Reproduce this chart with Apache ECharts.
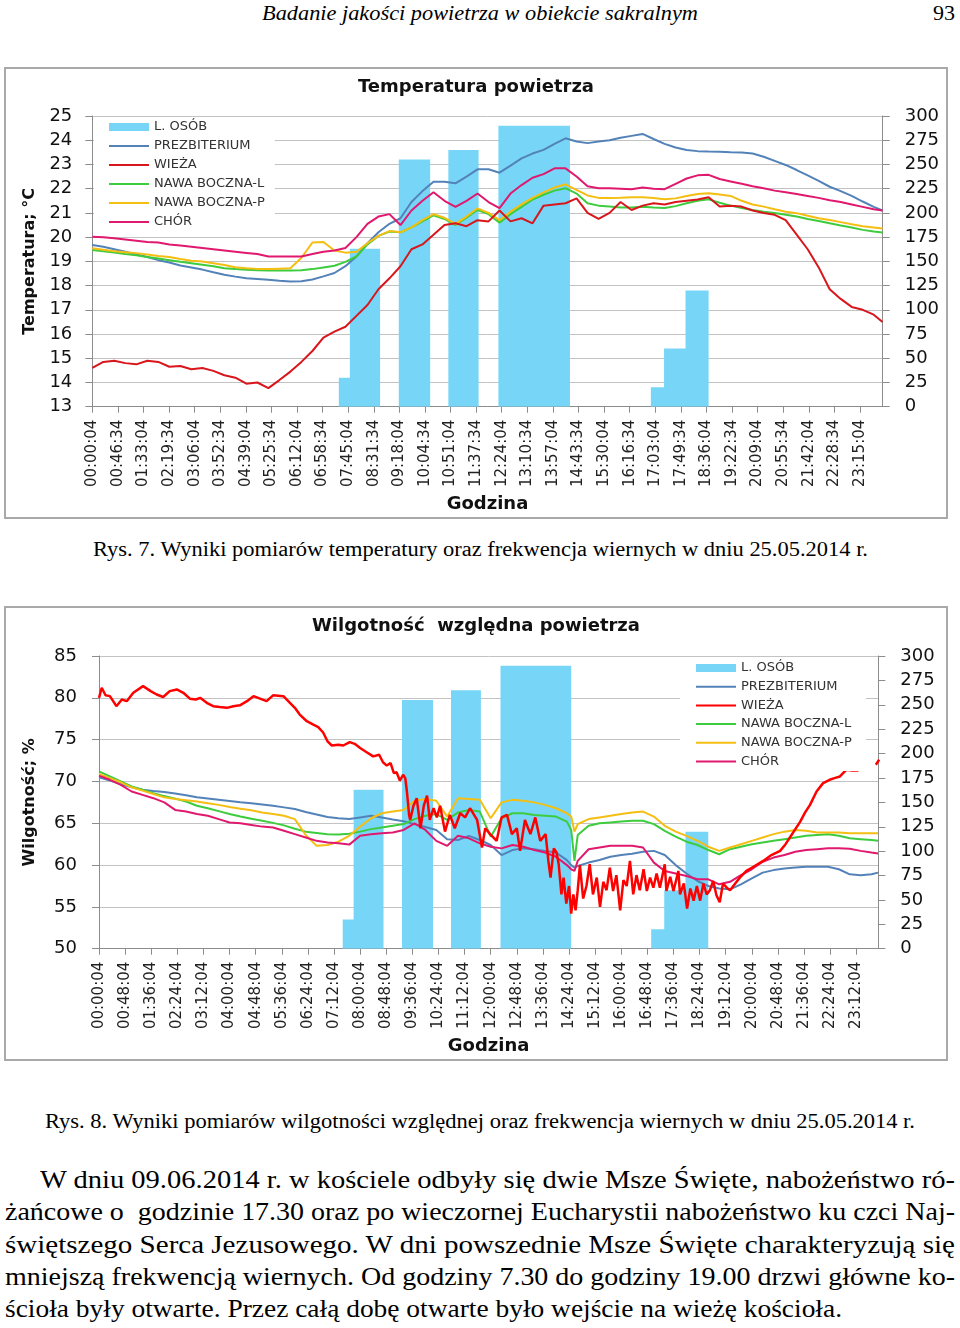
<!DOCTYPE html>
<html><head><meta charset="utf-8">
<script src="https://cdn.jsdelivr.net/npm/echarts/dist/echarts.min.js"></script>
<style>
html,body{margin:0;padding:0;background:#fff;}
body{width:960px;height:1328px;position:relative;overflow:hidden;}
.txt{position:absolute;font-family:"Liberation Serif","Times New Roman",serif;color:#000;white-space:pre;line-height:1;}
.txt span{display:inline-block;transform-origin:0 50%;white-space:pre;}
.frame{position:absolute;border:2px solid #a9a9a9;box-sizing:border-box;pointer-events:none;}
.chart{position:absolute;}
</style></head>
<body>
<div class="txt fit" data-w="436" style="left:262px;top:2px;font-size:22px;font-style:italic;"><span>Badanie jakości powietrza w obiekcie sakralnym</span></div>
<div class="txt fit" data-w="22" style="left:933px;top:2px;font-size:22px;"><span>93</span></div>

<div id="c1" class="chart" style="left:4px;top:67px;width:944px;height:451px;"></div>
<div class="frame" style="left:4px;top:67px;width:944px;height:452px;"></div>

<div class="txt fit" data-w="775" style="left:93px;top:539px;font-size:20px;"><span>Rys. 7. Wyniki pomiarów temperatury oraz frekwencja wiernych w dniu 25.05.2014 r.</span></div>

<div id="c2" class="chart" style="left:4px;top:606px;width:944px;height:454px;"></div>
<div class="frame" style="left:4px;top:606px;width:944px;height:455px;"></div>

<div class="txt fit" data-w="870" style="left:45px;top:1111px;font-size:20px;"><span>Rys. 8. Wyniki pomiarów wilgotności względnej oraz frekwencja wiernych w dniu 25.05.2014 r.</span></div>

<div class="txt fit" data-w="915" style="left:40px;top:1167px;font-size:25px;"><span>W dniu 09.06.2014 r. w kościele odbyły się dwie Msze Święte, nabożeństwo ró-</span></div>
<div class="txt fit" data-w="950" style="left:5px;top:1199px;font-size:25px;"><span>żańcowe o  godzinie 17.30 oraz po wieczornej Eucharystii nabożeństwo ku czci Naj-</span></div>
<div class="txt fit" data-w="950" style="left:5px;top:1232px;font-size:25px;"><span>świętszego Serca Jezusowego. W dni powszednie Msze Święte charakteryzują się</span></div>
<div class="txt fit" data-w="950" style="left:5px;top:1264px;font-size:25px;"><span>mniejszą frekwencją wiernych. Od godziny 7.30 do godziny 19.00 drzwi główne ko-</span></div>
<div class="txt fit" data-w="837" style="left:5px;top:1296px;font-size:25px;"><span>ścioła były otwarte. Przez całą dobę otwarte było wejście na wieżę kościoła.</span></div>

<script>
// ---------- DATA ----------
// Series names
const seriesNames = ['L. OSÓB', 'PREZBITERIUM', 'WIEŻA', 'NAWA BOCZNA-L', 'NAWA BOCZNA-P', 'CHÓR'];

// Number of people (L. OSÓB): change points, minutes after 00:00:04, and value held from that moment
const osobMin = [0, 448, 468, 523, 557, 614, 647, 702, 738, 868, 1015, 1039, 1078, 1120, 1436];
const osobVal = [0, 30, 163, 0, 255, 0, 265, 0, 290, 0, 20, 60, 120, 0, 0];

// Temperature readings (°C), minutes after 00:00:04
const tMin = [0,20,40,60,80,100,120,140,160,180,200,220,240,260,280,300,320,340,360,380,400,420,440,460,480,500,520,540,560,580,600,620,640,660,680,700,720,740,760,780,800,820,840,860,880,900,920,940,960,980,1000,1020,1040,1060,1080,1100,1120,1140,1160,1180,1200,1220,1240,1260,1280,1300,1320,1340,1360,1380,1400,1420,1436];
const tPrezb = [19.68,19.6,19.5,19.4,19.28,19.18,19.05,18.95,18.83,18.75,18.66,18.55,18.45,18.37,18.3,18.27,18.24,18.2,18.17,18.18,18.25,18.38,18.52,18.8,19.2,19.75,20.2,20.55,20.78,21.45,21.9,22.29,22.29,22.22,22.5,22.8,22.8,22.66,22.95,23.25,23.45,23.6,23.85,24.08,23.95,23.88,23.95,24.0,24.1,24.18,24.26,24.05,23.85,23.7,23.6,23.55,23.53,23.52,23.5,23.49,23.45,23.32,23.15,22.98,22.77,22.55,22.32,22.08,21.9,21.7,21.47,21.25,21.1];
const tWieza = [14.6,14.85,14.9,14.8,14.75,14.9,14.85,14.65,14.68,14.55,14.6,14.48,14.3,14.2,13.95,14.0,13.77,14.1,14.45,14.85,15.3,15.85,16.1,16.3,16.75,17.2,17.85,18.3,18.8,19.5,19.7,20.1,20.5,20.57,20.45,20.7,20.65,21.1,20.65,20.78,20.57,21.3,21.35,21.4,21.6,21.0,20.75,21.0,21.45,21.12,21.3,21.4,21.35,21.45,21.5,21.55,21.65,21.26,21.3,21.26,21.1,21.0,20.92,20.7,20.1,19.5,18.75,17.85,17.45,17.12,17.0,16.8,16.5];
const tNawaL = [19.47,19.42,19.37,19.3,19.25,19.18,19.12,19.05,18.98,18.92,18.86,18.8,18.72,18.68,18.65,18.63,18.62,18.62,18.62,18.63,18.68,18.75,18.82,18.98,19.2,19.7,20.05,20.23,20.2,20.4,20.65,20.9,20.75,20.5,20.8,21.12,20.95,20.6,20.95,21.25,21.55,21.75,21.92,22.02,21.8,21.4,21.3,21.26,21.22,21.22,21.25,21.22,21.2,21.28,21.4,21.5,21.56,21.42,21.3,21.2,21.12,21.05,21.0,20.92,20.85,20.75,20.67,20.57,20.48,20.4,20.3,20.23,20.19];
const tNawaP = [19.54,19.48,19.42,19.38,19.34,19.28,19.22,19.18,19.1,19.03,18.99,18.92,18.85,18.76,18.72,18.69,18.68,18.7,18.72,19.15,19.78,19.8,19.45,19.36,19.4,19.75,20.05,20.25,20.2,20.4,20.7,20.95,20.8,20.55,20.85,21.19,21.0,20.7,21.05,21.35,21.62,21.85,22.05,22.18,21.95,21.72,21.62,21.62,21.63,21.65,21.65,21.62,21.56,21.6,21.7,21.78,21.81,21.76,21.7,21.5,21.35,21.26,21.15,21.05,20.99,20.88,20.78,20.71,20.62,20.53,20.45,20.4,20.36];
const tChor = [20.02,20.0,19.95,19.9,19.85,19.8,19.78,19.7,19.65,19.6,19.55,19.5,19.45,19.4,19.35,19.3,19.2,19.2,19.2,19.2,19.3,19.4,19.45,19.55,20.0,20.55,20.85,20.95,20.5,21.1,21.5,21.85,21.5,21.25,21.5,21.8,21.45,21.2,21.8,22.15,22.45,22.6,22.84,22.84,22.5,22.1,22.02,22.02,22.0,21.98,22.05,22.0,21.98,22.2,22.42,22.55,22.57,22.4,22.3,22.2,22.1,22.02,21.92,21.85,21.78,21.7,21.62,21.52,21.45,21.35,21.25,21.15,21.1];

// Relative humidity readings (%), minutes after 00:00:04
const hMin = [0,20,40,60,80,100,120,140,160,180,200,220,240,260,280,300,320,340,360,380,400,420,440,460,480,500,520,540,560,580,600,620,640,660,680,700,720,740,760,780,800,820,840,860,868,874,880,900,920,940,960,980,1000,1020,1040,1060,1080,1100,1120,1140,1160,1180,1200,1220,1240,1260,1280,1300,1320,1340,1360,1380,1400,1420,1432];
const hPrezb = [70.5,70.1,69.7,69.3,69.0,68.85,68.75,68.55,68.35,68.1,67.95,67.8,67.65,67.5,67.4,67.25,67.1,66.9,66.7,66.35,66.05,65.75,65.6,65.5,65.7,65.9,65.7,65.45,65.25,64.9,64.55,64.2,63.1,63.0,63.5,63.0,62.4,61.2,61.8,62.0,61.9,61.7,61.5,60.6,60.0,59.7,59.9,60.3,60.6,61.0,61.2,61.35,61.6,61.7,61.2,60.0,59.0,58.1,57.5,57.2,57.1,57.7,58.4,59.1,59.4,59.6,59.7,59.8,59.8,59.8,59.5,58.9,58.8,58.9,59.1];
const hNawaL = [71.2,70.6,70.0,69.4,69.0,68.6,68.25,67.95,67.6,67.1,66.8,66.45,66.1,65.8,65.55,65.3,65.05,64.75,64.35,64.0,63.85,63.7,63.65,63.75,64.0,64.3,64.5,64.7,64.9,65.5,65.9,66.1,65.4,66.3,66.6,66.4,63.4,65.6,66.2,66.2,66.0,65.9,65.8,65.2,64.2,60.5,63.6,64.7,65.0,65.1,65.2,65.3,65.3,64.9,64.1,63.4,62.8,62.4,61.8,61.3,61.9,62.2,62.5,62.7,62.9,63.1,63.3,63.5,63.6,63.7,63.5,63.2,63.1,63.0,62.9];
const hNawaP = [70.9,70.4,69.9,69.3,68.9,68.5,68.1,67.9,67.75,67.6,67.4,67.2,66.95,66.75,66.55,66.3,66.1,65.9,65.5,63.6,62.3,62.4,62.8,63.5,64.6,65.6,66.2,66.4,66.6,67.7,67.9,67.7,65.8,68.0,67.9,67.8,65.6,67.5,67.8,67.7,67.5,67.2,66.8,66.2,65.8,64.0,64.9,65.5,65.7,65.9,66.1,66.3,66.4,65.8,64.7,64.0,63.5,62.9,62.2,61.7,62.1,62.5,62.9,63.3,63.7,64.0,64.2,64.1,63.9,63.9,63.9,63.8,63.8,63.8,63.8];
const hChor = [70.7,70.2,69.6,68.8,68.4,68.0,67.5,66.6,66.4,66.1,65.9,65.5,65.1,65.0,64.8,64.6,64.5,64.1,63.7,63.3,62.9,62.7,62.6,62.45,63.5,63.7,63.8,63.9,64.2,65.0,64.2,62.9,62.3,63.5,63.2,62.6,62.2,62.0,62.4,62.2,61.8,61.5,61.0,60.0,59.5,59.3,60.5,61.9,62.1,62.3,62.3,62.3,62.1,60.3,59.3,59.0,58.7,58.3,58.3,57.7,58.0,58.8,59.5,60.4,60.9,61.2,61.6,61.8,61.9,62.0,62.0,61.95,61.7,61.5,61.4];
// Tower humidity (very noisy) has its own reading times
const hWiezaMin = [0,5,12,20,32,42,51,63,81,95,106,118,130,143,155,167,178,186,198,210,222,235,247,259,272,284,296,308,320,339,351,360,369,382,394,403,412,420,428,440,449,461,470,480,492,504,515,522,529,536,542,547,553,559,563,566,570,572,578,584,591,597,603,608,615,621,627,636,645,654,664,673,682,695,704,710,719,731,740,750,759,768,774,783,793,802,811,821,826,830,836,841,845,850,854,859,864,868,872,876,880,884,890,896,902,908,915,921,927,933,939,945,951,958,964,970,976,982,988,994,1001,1007,1013,1019,1025,1031,1040,1043,1050,1056,1065,1068,1075,1081,1087,1093,1099,1105,1111,1117,1123,1129,1135,1141,1147,1154,1160,1166,1172,1178,1190,1203,1221,1236,1252,1262,1270,1280,1289,1298,1307,1319,1331,1343,1352,1362,1374,1385,1396,1410,1428,1434];
const hWieza = [80.0,81.2,80.3,80.2,79.0,79.8,79.6,80.6,81.4,80.8,80.4,80.1,80.8,81.0,80.6,79.9,79.8,80.0,79.4,79.0,78.9,78.8,79.0,79.1,79.6,80.2,79.9,79.6,80.3,80.2,79.4,78.8,78.0,77.2,76.8,76.5,75.85,74.8,74.3,74.4,74.3,74.7,74.5,74.0,73.5,73.0,73.2,72.3,71.9,72.2,71.0,71.1,70.1,70.8,70.4,68.8,66.0,65.4,67.1,68.0,64.4,67.1,68.3,65.4,66.8,65.7,67.1,64.0,66.0,64.4,66.2,65.7,66.8,65.4,62.1,64.4,63.7,62.9,65.7,66.0,63.7,64.4,61.7,65.4,63.7,65.7,62.9,63.7,60.5,58.5,62.0,61.5,60.1,56.5,58.5,55.4,57.5,54.2,56.5,54.6,57.0,60.0,56.0,57.5,60.1,56.5,58.5,55.0,58.0,57.0,59.7,56.9,58.8,54.6,58.2,57.5,60.5,56.5,58.8,57.0,59.5,56.9,58.5,57.3,59.0,57.3,60.1,56.9,58.6,56.9,59.3,56.5,57.8,54.8,57.2,55.75,57.5,55.75,57.8,56.5,57.0,58.1,56.4,55.55,57.8,57.3,57.0,57.5,58.0,58.5,59.3,59.8,60.5,61.2,61.7,62.5,63.3,64.3,65.2,66.3,67.2,68.8,69.8,70.2,70.4,70.6,71.4,71.3,71.3,null,72.0,72.6];

// ---------- helpers ----------
function check(a, b, n) { if (a.length !== b.length) throw new Error(n + ': ' + a.length + ' vs ' + b.length); }
check(osobMin, osobVal, 'osob');
[tPrezb, tWieza, tNawaL, tNawaP, tChor].forEach((s, i) => check(tMin, s, 't' + i));
[hPrezb, hNawaL, hNawaP, hChor].forEach((s, i) => check(hMin, s, 'h' + i));
check(hWiezaMin, hWieza, 'hWieza');

function pairs(mins, vals) { return mins.map((m, i) => [m * 60, vals[i] == null ? '-' : vals[i]]); }
function pad(n) { return (n < 10 ? '0' : '') + n; }
function fmtTime(v) {
  const s = Math.round(v) + 4;
  return pad(Math.floor(s / 3600)) + ':' + pad(Math.floor((s % 3600) / 60)) + ':' + pad(s % 60);
}

const FONT = '"DejaVu Sans", Verdana, sans-serif';
const COL = { osob: '#77D6F7', prezb: '#5382B9', wieza1: '#D8161C', wieza2: '#FF0000', nawaL: '#3DCC3D', nawaP: '#F4BE12', chor: '#E0186E' };
const GRIDCOL = '#C3C3C3', AXCOL = '#8C8C8C';
const LINE_ICON = 'path://M0,0H40V2H0Z';

function lineSeries(name, data, color, width, z) {
  return { name, type: 'line', data, yAxisIndex: 0, symbol: 'none', showSymbol: false,
    lineStyle: { color, width }, itemStyle: { color }, z: z || 3, animation: false };
}
function osobSeries() {
  return { name: 'L. OSÓB', type: 'line', yAxisIndex: 1, step: 'end', data: pairs(osobMin, osobVal),
    symbol: 'none', showSymbol: false, lineStyle: { width: 0, opacity: 0 },
    areaStyle: { color: COL.osob, opacity: 1 }, itemStyle: { color: COL.osob }, z: 2, animation: false };
}

function buildOption(cfg) {
  return {
    animation: false,
    textStyle: { fontFamily: FONT },
    title: { text: cfg.title, left: cfg.titleLeft, top: cfg.titleTop, padding: 0,
      textStyle: { fontFamily: FONT, fontSize: 18, fontWeight: 'bold', color: '#111' } },
    legend: Object.assign({
      orient: 'vertical', itemWidth: 40, itemHeight: 8, itemGap: cfg.legendGap,
      backgroundColor: '#fff', borderWidth: 0, symbolKeepAspect: true,
      textStyle: { fontFamily: FONT, fontSize: 13, color: '#333', lineHeight: 15 },
      data: [
        { name: 'L. OSÓB', icon: 'rect' },
        { name: 'PREZBITERIUM', icon: LINE_ICON },
        { name: 'WIEŻA', icon: LINE_ICON },
        { name: 'NAWA BOCZNA-L', icon: LINE_ICON },
        { name: 'NAWA BOCZNA-P', icon: LINE_ICON },
        { name: 'CHÓR', icon: LINE_ICON }
      ],
      z: 10
    }, cfg.legend),
    grid: cfg.grid,
    xAxis: {
      type: 'value', min: 0, max: cfg.xMax, interval: cfg.xInterval,
      name: 'Godzina', nameLocation: 'middle', nameGap: cfg.xNameGap,
      nameTextStyle: { fontFamily: FONT, fontSize: 18, fontWeight: 'bold', color: '#111', verticalAlign: 'top' },
      axisLine: { show: true, onZero: false, lineStyle: { color: AXCOL, width: 1 } },
      axisTick: { show: true, length: 6, lineStyle: { color: AXCOL } },
      axisLabel: { rotate: 90, margin: 13, fontFamily: FONT, fontSize: 15, color: '#222',
        showMaxLabel: false, formatter: fmtTime },
      splitLine: { show: false }
    },
    yAxis: [
      { type: 'value', min: cfg.yMin, max: cfg.yMax, interval: cfg.yInterval, position: 'left',
        name: cfg.yName, nameLocation: 'middle', nameGap: cfg.yNameGap, nameRotate: 90,
        nameTextStyle: { fontFamily: FONT, fontSize: 16, fontWeight: 'bold', color: '#111' },
        axisLine: { show: true, lineStyle: { color: AXCOL } },
        axisTick: { show: true, length: 7, lineStyle: { color: AXCOL } },
        axisLabel: { margin: cfg.yLabMargin, fontFamily: FONT, fontSize: 18, color: '#111' },
        splitLine: { show: true, lineStyle: { color: GRIDCOL, width: 1 } } },
      { type: 'value', min: 0, max: 300, interval: 25, position: 'right',
        axisLine: { show: true, lineStyle: { color: AXCOL } },
        axisTick: { show: true, length: 7, lineStyle: { color: AXCOL } },
        axisLabel: { margin: 22, fontFamily: FONT, fontSize: 18, color: '#111' },
        splitLine: { show: false } }
    ],
    series: cfg.series
  };
}

const c1 = echarts.init(document.getElementById('c1'), null, { renderer: 'canvas' });
c1.setOption(buildOption({
  title: 'Temperatura powietrza', titleLeft: 'center', titleTop: 11,
  legend: { left: 90, top: 50.5, padding: [2, 10, 3, 15] }, legendGap: 4,
  grid: { left: 88.3, right: 65.3, top: 49, bottom: 111, containLabel: false },
  xMax: 86180, xInterval: 2790, xNameGap: 86,
  yMin: 13, yMax: 25, yInterval: 1, yName: 'Temperatura; °C', yNameGap: 54, yLabMargin: 20,
  series: [
    osobSeries(),
    lineSeries('PREZBITERIUM', pairs(tMin, tPrezb), COL.prezb, 2, 3),
    lineSeries('WIEŻA', pairs(tMin, tWieza), COL.wieza1, 2, 4),
    lineSeries('NAWA BOCZNA-L', pairs(tMin, tNawaL), COL.nawaL, 2, 3),
    lineSeries('NAWA BOCZNA-P', pairs(tMin, tNawaP), COL.nawaP, 2, 3),
    lineSeries('CHÓR', pairs(tMin, tChor), COL.chor, 2, 3)
  ]
}));

const c2 = echarts.init(document.getElementById('c2'), null, { renderer: 'canvas' });
c2.setOption(buildOption({
  title: 'Wilgotność  względna powietrza', titleLeft: 'center', titleTop: 11,
  legend: { left: 676, top: 52.5, padding: [2, 14, 2, 16] }, legendGap: 3.7,
  grid: { left: 95, right: 69.7, top: 50, bottom: 108, containLabel: false },
  xMax: 85950, xInterval: 2880, xNameGap: 85,
  yMin: 50, yMax: 85, yInterval: 5, yName: 'Wilgotność; %', yNameGap: 61, yLabMargin: 22,
  series: [
    osobSeries(),
    lineSeries('PREZBITERIUM', pairs(hMin, hPrezb), COL.prezb, 2, 3),
    Object.assign(lineSeries('WIEŻA', pairs(hWiezaMin, hWieza), COL.wieza2, 2.5, 4), { connectNulls: false }),
    lineSeries('NAWA BOCZNA-L', pairs(hMin, hNawaL), COL.nawaL, 2, 3),
    lineSeries('NAWA BOCZNA-P', pairs(hMin, hNawaP), COL.nawaP, 2, 3),
    lineSeries('CHÓR', pairs(hMin, hChor), COL.chor, 2, 3)
  ]
}));

// ---------- fit scanned-text lines to their measured widths ----------
document.querySelectorAll('.fit').forEach(el => {
  const w = +el.dataset.w;
  const sp = el.firstElementChild;
  const nat = sp.getBoundingClientRect().width;
  if (nat > 0) sp.style.transform = 'scaleX(' + (w / nat) + ')';
});
</script>
</body></html>
